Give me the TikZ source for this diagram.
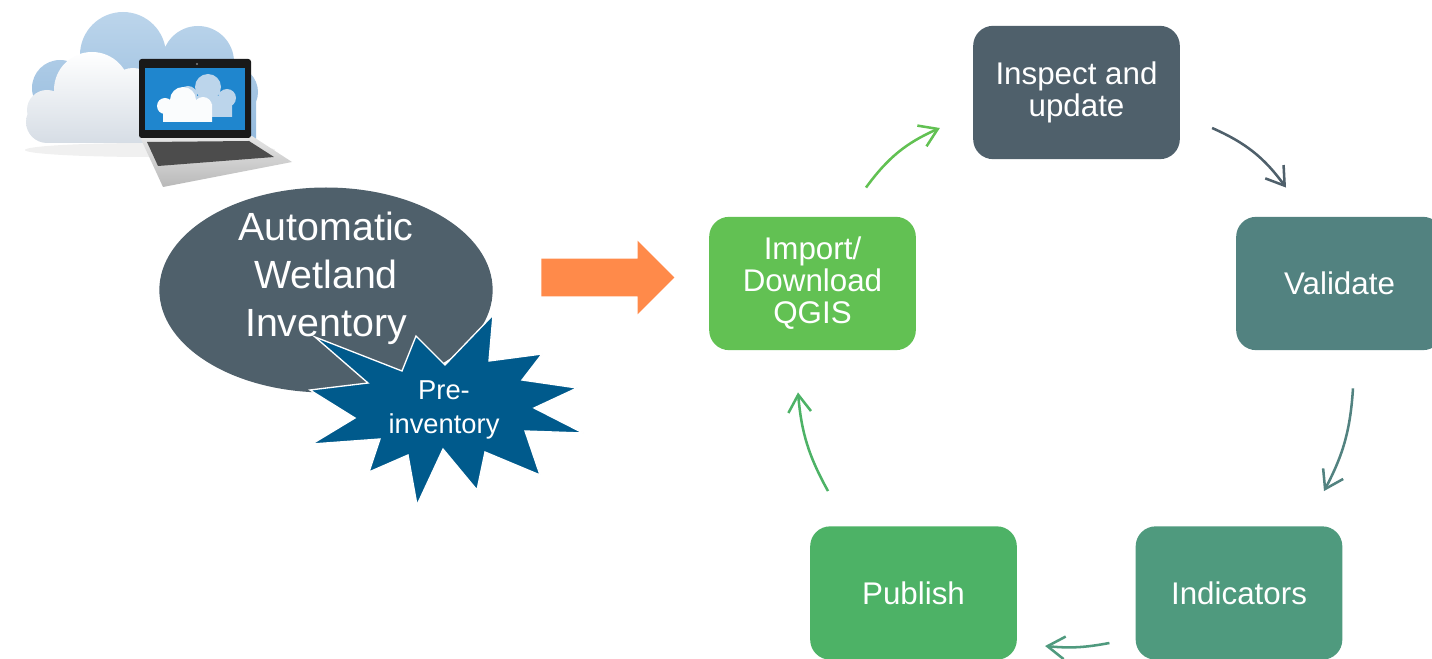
\documentclass[tikz,border=0pt]{standalone}
\usepackage{fontspec}
\setmainfont{Liberation Sans}
\usetikzlibrary{calc,shapes.geometric,shapes.arrows,arrows.meta}
\definecolor{slate}{HTML}{4F606B}
\definecolor{leafgreen}{HTML}{62C153}
\definecolor{tealbox}{HTML}{528280}
\definecolor{seagreen}{HTML}{4F9A7E}
\definecolor{pubgreen}{HTML}{4DB266}
\definecolor{starblue}{HTML}{005A8C}
\definecolor{orangeA}{HTML}{FF8A4A}
\definecolor{cloudtop}{HTML}{BCD5EB}
\definecolor{cloudbot}{HTML}{94BADD}
\definecolor{cloudlow}{HTML}{D6DDE5}
\definecolor{screenblue}{HTML}{1F86CE}

\begin{document}
\begin{tikzpicture}[x=0.75pt,y=-0.75pt,
    stepbox/.style={rounded corners=15pt, minimum width=155pt, minimum height=100pt,
      inner sep=0pt, text=white, align=center, font=\fontsize{23.5}{24}\selectfont},
    cyc/.style={line width=1.9pt, -{Straight Barb[length=13pt,width=17pt]}},
    bigtext/.style={text=white, align=center, font=\fontsize{29.5}{36}\selectfont},
    startext/.style={text=white, align=center, font=\fontsize{20.5}{25.5}\selectfont}]
    \useasboundingbox (0,0) rectangle (1432,659);
    \clip (0,0) rectangle (1432,659);

    \fill[black!6] (150,150) ellipse (125 and 7);
    \shade[top color=cloudtop, bottom color=cloudbot]
      (60,88) circle (28) (123,55) circle (43) (198,62) circle (36) (232,92) circle (26)
      (40,140) rectangle (256,85);
    \shade[top color=white, bottom color=cloudlow]
      (47,110) circle (20) (47,122) circle (21) (92,90) circle (38) (133,92) circle (24)
      (45,143) rectangle (150,100);

    \shade[top color=gray!20, bottom color=gray!55] (140,137) -- (252,136) -- (292,162) -- (163,187) -- cycle;
    \fill[black!70] (147,142) -- (249,141) -- (274,157) -- (158,166) -- cycle;
    \fill[black!90, rounded corners=2pt] (139,59) rectangle (251,138);
    \fill[screenblue] (145,68) rectangle (245,130);
    \fill[gray] (197,64) circle (1.2);
    \fill[cloudtop] (188,95) circle (9) (208,87) circle (13) (227,98) circle (9) (188,117) rectangle (232,96);
    \fill[white!92!cloudtop] (165,106) circle (8) (183,100) circle (13) (203,106) circle (9) (163,122) rectangle (212,104);

    \node[ellipse, fill=slate, minimum width=250pt, minimum height=153.75pt, inner sep=0pt] (ell) at (326,290) {};
    \node[bigtext] (awi) at (326,278) {Automatic\\Wetland\\Inventory};

    \filldraw[fill=starblue, draw=white, line width=1pt] (493,315) -- (489,361) -- (542,354) -- (522,380)
      -- (577,388) -- (534,408) -- (583,433) -- (525,431) -- (540,475) -- (485,452) -- (477,490)
      -- (443,449) -- (417,505) -- (408,455) -- (369,472) -- (380,439) -- (312,444) -- (355,418)
      -- (310,390) -- (368,383) -- (315,337) -- (402,371) -- (416,336) -- (445,365) -- cycle;
    \node[startext] (pre) at (444,410) {Pre-\\inventory};

    \node[single arrow, fill=orangeA, minimum height=99.75pt, minimum width=54.75pt,
      single arrow head extend=13.5pt, inner xsep=0pt, inner ysep=13.875pt] (go) at (598.5,277.5) {};

    \node[stepbox, fill=slate] (insp) at (1076.5,92.5) {Inspect and\\update};
    \node[stepbox, fill=leafgreen] (imp) at (812.5,283.5) {Import/\\Download\\QGIS};
    \node[stepbox, fill=tealbox] (valid) at (1339.5,283.5) {Validate};
    \node[stepbox, fill=seagreen] (indic) at (1239,593) {Indicators};
    \node[stepbox, fill=pubgreen] (pub) at (913.5,593) {Publish};

    \draw[cyc, leafgreen] ($(imp.north)+(53.5,-29)$) to[bend left=15] ($(insp.west)+(-33,35.5)$);
    \draw[cyc, slate] ($(insp.east)+(32,35.5)$) to[bend left=15] ($(valid.north)+(-53.5,-29)$);
    \draw[cyc, tealbox] ($(valid.south)+(13.5,38)$) to[bend left=12] ($(indic.north)+(85,-35)$);
    \draw[cyc, seagreen] ($(indic.west)+(-26,50)$) to[bend left=8] ($(pub.east)+(28,53)$);
    \draw[cyc, pubgreen] ($(pub.north)+(-85.5,-35)$) to[bend left=12] ($(imp.south)+(-14.5,42)$);
\end{tikzpicture}
\end{document}
